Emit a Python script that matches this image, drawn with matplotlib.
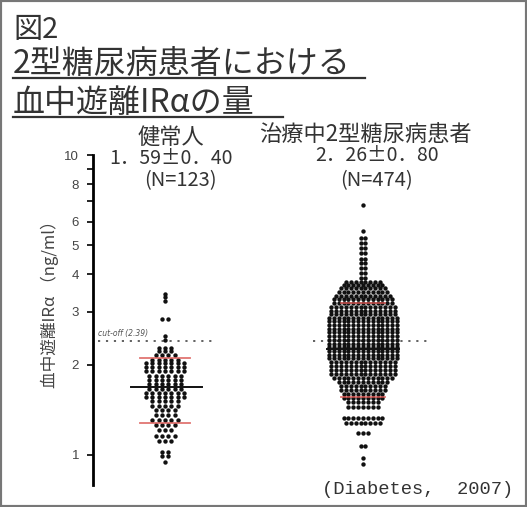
import numpy as np
import matplotlib
matplotlib.use('Agg')
import matplotlib.pyplot as plt
from matplotlib.lines import Line2D
from matplotlib.patches import Rectangle

plt.rcParams['font.family'] = ['Noto Sans CJK JP', 'DejaVu Sans']

# データ（図から読み取った値：行ごとの値と点数）
healthy_vals = [3.45, 3.35, 3.25, 2.85, 2.50, 2.42,
                2.28, 2.22, 2.15, 2.08, 2.02, 1.96, 1.90, 1.84, 1.78, 1.72, 1.66,
                1.61, 1.56, 1.51, 1.46, 1.41, 1.36, 1.31, 1.26, 1.21, 1.16, 1.11,
                1.02, 0.99, 0.95]
healthy_cnts = [1, 1, 1, 2, 1, 1,
                3, 3, 4, 5, 7, 7, 7, 6, 6, 6, 6,
                7, 7, 5, 5, 4, 4, 5, 4, 3, 4, 3,
                2, 2, 1]

dm_vals = [6.8, 5.6, 5.3, 5.1, 4.9, 4.7, 4.5, 4.35, 4.2, 4.05, 3.9,
           3.78, 3.68, 3.60,
           3.50, 3.40, 3.30, 3.21, 3.12, 3.03, 2.95, 2.87, 2.79, 2.71, 2.63, 2.56,
           2.49, 2.42, 2.35, 2.29, 2.22, 2.16, 2.10, 2.04, 1.98, 1.92, 1.86, 1.80,
           1.75, 1.70, 1.65, 1.60, 1.55, 1.50, 1.45,
           1.33, 1.28, 1.18, 1.07, 0.98, 0.93]
dm_cnts = [1, 1, 2, 2, 2, 2, 2, 2, 2, 2, 2,
           8, 9, 10,
           11, 12, 13, 13, 14, 14, 14, 15, 15, 15, 15, 15,
           15, 15, 15, 15, 15, 15, 15, 14, 14, 14, 14, 13,
           11, 10, 10, 9, 9, 7, 7,
           9, 8, 3, 2, 1, 1]

groups = ['健常人', '治療中2型糖尿病患者']
stats = ['1．59±0．40', '2．26±0．80']
ns = ['(N=123)', '(N=474)']
center_line = [1.69, 2.26]
sd_lines = [(2.10, 1.28), (3.21, 1.56)]
cutoff = 2.39
yticks = [1, 2, 3, 4, 5, 6, 7, 8, 9, 10]
ylabels = ['1', '2', '3', '4', '5', '6', '', '8', '', '10']

W, H = 527, 507
fx = lambda px: px / W
fy = lambda py: 1 - py / H

fig = plt.figure(figsize=(W / 100, H / 100), dpi=100)
fig.patch.set_facecolor('white')
ax = fig.add_axes([fx(93), fy(485), fx(520) - fx(93), (485 - 155) / H])
ax.set_yscale('log')
ax.set_ylim(0.794, 10)
ax.set_xlim(-0.364, 1.793)


def rows_to_xy(vals, cnts, x0, step):
    xs, ys = [], []
    for v, c in zip(vals, cnts):
        off = (np.arange(c) - (c - 1) / 2) * step
        xs.extend(x0 + off)
        ys.extend([v] * c)
    return np.array(xs), np.array(ys)


x1, y1 = rows_to_xy(healthy_vals, healthy_cnts, 0, 0.032)
x2, y2 = rows_to_xy(dm_vals, dm_cnts, 1, 0.0245)
ax.scatter(x1, y1, s=10, color='#111111', lw=0, zorder=3)
ax.scatter(x2, y2, s=10, color='#111111', lw=0, zorder=3)

# cut-off
ax.plot([-0.338, 0.253], [cutoff, cutoff], color='#555555', lw=1.3,
        ls=(0, (1.2, 3.2)), zorder=2)
ax.plot([0.747, 1.323], [cutoff, cutoff], color='#555555', lw=1.3,
        ls=(0, (1.2, 3.2)), zorder=2)
ax.text(-0.34, cutoff * 1.03, 'cut-off (2.39)', fontsize=5.5, style='italic',
        color='#555555', va='bottom', ha='left', family='DejaVu Sans')

# 平均・SD
ax.plot([-0.17, 0.187], [center_line[0]] * 2, color='#111111', lw=1.4, zorder=4)
ax.plot([0.82, 1.18], [center_line[1]] * 2, color='#111111', lw=1.4, zorder=2)
for i, (hi, lo) in enumerate(sd_lines):
    w = 0.125 if i == 0 else 0.11
    for v in (hi, lo):
        ax.plot([i - w, i + w], [v, v], color='#d9534f', lw=1.3, alpha=0.8, zorder=4)

for s in ['top', 'right', 'bottom']:
    ax.spines[s].set_visible(False)
ax.spines['left'].set_linewidth(2.0)
ax.set_xticks([])
ax.set_yticks(yticks)
ax.set_yticklabels(ylabels)
ax.yaxis.set_minor_locator(matplotlib.ticker.NullLocator())
ax.tick_params(axis='y', direction='out', length=4, width=1.2, labelsize=9.5,
               labelcolor='#444444', pad=6)
for lab in ax.get_yticklabels():
    lab.set_family('Liberation Sans')

# 群ラベル
ax.text(0.03, 10.5, groups[0], ha='center', va='bottom', fontsize=16, color='#333333',
        clip_on=False)
ax.text(0.03, 9.0, stats[0], ha='center', va='bottom', fontsize=14, color='#333333', clip_on=False)
ax.text(0.08, 7.6, ns[0], ha='center', va='bottom', fontsize=14.5, color='#333333', clip_on=False)
ax.text(1.01, 10.7, groups[1], ha='center', va='bottom', fontsize=16, color='#333333', clip_on=False)
ax.text(1.07, 9.2, stats[1], ha='center', va='bottom', fontsize=14, color='#333333', clip_on=False)
ax.text(1.07, 7.6, ns[1], ha='center', va='bottom', fontsize=14.5, color='#333333', clip_on=False)

# 軸ラベル
fig.text(fx(50), fy(300), '血中遊離IRα （ng/ml）', rotation=90, ha='center', va='center',
         fontsize=12, color='#444444')

# タイトル
fig.text(fx(13), fy(38), '図2', fontsize=21, color='#333333', ha='left', va='baseline')
fig.text(fx(13), fy(73), '2型糖尿病患者における', fontsize=23, color='#333333',
         ha='left', va='baseline')
fig.text(fx(13), fy(112), '血中遊離IRαの量', fontsize=23, color='#333333',
         ha='left', va='baseline')
fig.add_artist(Line2D([fx(13), fx(365)], [fy(78), fy(78)], color='#333333', lw=1.6))
fig.add_artist(Line2D([fx(13), fx(283)], [fy(117), fy(117)], color='#333333', lw=1.6))

fig.text(fx(513), fy(490), '(Diabetes,  2007)', fontsize=13.5, family='Liberation Mono',
         color='#333333', ha='right', va='center')

# 枠
fig.add_artist(Rectangle((0, 0), 1, 1, transform=fig.transFigure, fill=False,
                         edgecolor='#777777', lw=3))

fig.savefig('out.png', dpi=100, facecolor='white')
